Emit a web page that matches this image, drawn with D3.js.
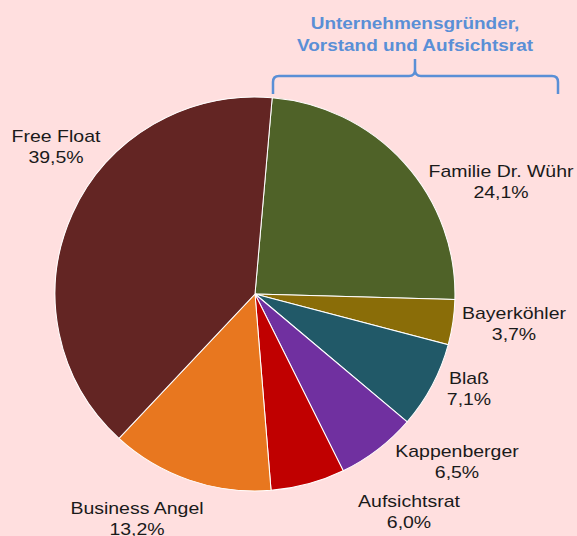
<!DOCTYPE html>
<html>
<head>
<meta charset="utf-8">
<script src="https://cdn.jsdelivr.net/npm/d3@7"></script>
<style>
  html, body { margin: 0; padding: 0; background: #ffdfdf; }
  svg { display: block; }
</style>
</head>
<body>
<div id="chart"></div>
<script>
// Aktionärsstruktur
const names = ["Familie Dr. Wühr", "Bayerköhler", "Blaß", "Kappenberger", "Aufsichtsrat", "Business Angel", "Free Float"];
const shares = [24.1, 3.7, 7.1, 6.5, 6.0, 13.2, 39.5];
const colors = ["#4f6228", "#8a6d08", "#215968", "#7030a0", "#c00000", "#e8771f", "#632523"];
const titleLines = ["Unternehmensgründer,", "Vorstand und Aufsichtsrat"];

const width = 577, height = 536;
const cx = 255, cy = 294, radius = 197;

// Label-Positionen (Textmitte, erste Zeile)
const labelPos = [[501, 177], [514, 319], [469, 384], [457, 457], [409, 507], [137, 514], [56, 142]];

const svg = d3.select("#chart")
    .append("svg")
    .attr("width", width)
    .attr("height", height);

const pie = d3.pie()
    .sort(null)
    .value(d => d)
    .startAngle(0.086)
    .endAngle(0.086 + 2 * Math.PI);

const arc = d3.arc()
    .innerRadius(0)
    .outerRadius(radius);

const g = svg.append("g")
    .attr("transform", `translate(${cx}, ${cy}) scale(1.015, 1)`);

g.selectAll("path")
    .data(pie(shares))
    .enter()
    .append("path")
    .attr("d", arc)
    .style("fill", (d, i) => colors[i])
    .style("stroke", "#ffffff")
    .style("stroke-width", 1);

const fmt = v => d3.format(".1f")(v).replace(".", ",") + "%";

names.forEach((n, i) => {
    const [x, y] = labelPos[i];
    const t = svg.append("text")
        .attr("transform", `translate(${x}, ${y}) scale(1.16, 1)`)
        .style("font-family", "Arial, 'Liberation Sans', sans-serif")
        .style("font-size", "16.8px")
        .style("fill", "#1a1a1a")
        .style("text-anchor", "middle");
    t.append("tspan").attr("x", 0).attr("y", 0).text(n);
    t.append("tspan").attr("x", 0).attr("y", 21.5).text(fmt(shares[i]));
});

// Klammer über Gründer / Vorstand / Aufsichtsrat
const blue = "#5a8fd6";
svg.append("path")
    .attr("d", "M273,94 L273,82 Q273,76 279,76 L409,76 Q415,76 415,70 L415,59 L415,70 Q415,76 421,76 L552,76 Q558,76 558,82 L558,94")
    .style("fill", "none")
    .style("stroke", blue)
    .style("stroke-width", 2.5);

titleLines.forEach((l, i) => {
    svg.append("text")
        .attr("transform", `translate(415, ${29 + i * 21.5}) scale(1.13, 1)`)
        .style("font-family", "Arial, 'Liberation Sans', sans-serif")
        .style("font-size", "16.8px")
        .style("font-weight", "bold")
        .style("fill", blue)
        .style("text-anchor", "middle")
        .text(l);
});
</script>
</body>
</html>
